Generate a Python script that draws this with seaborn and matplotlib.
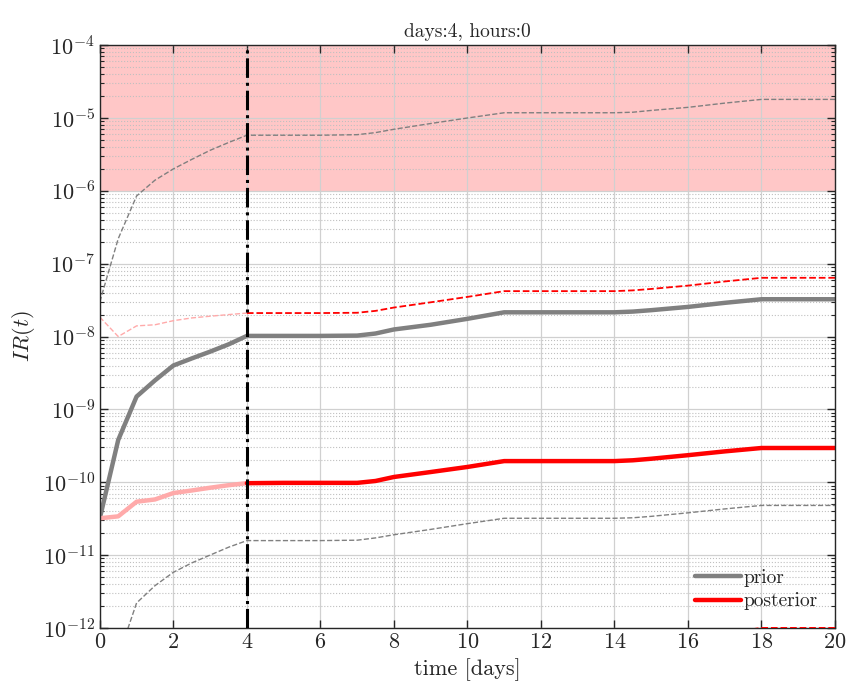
import seaborn as sns
import pandas as pd
import numpy as np
import matplotlib.pyplot as plt

days = [0, 0.5, 1, 1.5, 2, 2.5, 3, 3.5, 4, 5, 6, 7, 7.5, 8, 9, 10, 11,
        12, 13, 14, 14.5, 15, 16, 17, 18, 19, 20]

prior_mean = [3.2e-11, 3.8e-10, 1.5e-9, 2.5e-9, 4.0e-9, 5.0e-9, 6.2e-9, 7.8e-9, 1.02e-8,
              1.02e-8, 1.02e-8, 1.03e-8, 1.1e-8, 1.25e-8, 1.45e-8, 1.75e-8, 2.15e-8,
              2.15e-8, 2.15e-8, 2.15e-8, 2.2e-8, 2.3e-8, 2.55e-8, 2.9e-8, 3.25e-8, 3.25e-8, 3.25e-8]
prior_upper = [3.0e-8, 2.2e-7, 8.5e-7, 1.4e-6, 2.0e-6, 2.7e-6, 3.6e-6, 4.6e-6, 5.8e-6,
               5.8e-6, 5.8e-6, 5.9e-6, 6.3e-6, 7.0e-6, 8.4e-6, 1.0e-5, 1.18e-5,
               1.18e-5, 1.18e-5, 1.18e-5, 1.2e-5, 1.27e-5, 1.4e-5, 1.6e-5, 1.8e-5, 1.8e-5, 1.8e-5]
prior_lower = [5e-14, 4e-13, 2.2e-12, 3.8e-12, 5.8e-12, 7.8e-12, 1.0e-11, 1.28e-11, 1.58e-11,
               1.58e-11, 1.58e-11, 1.6e-11, 1.72e-11, 1.9e-11, 2.25e-11, 2.7e-11, 3.2e-11,
               3.2e-11, 3.2e-11, 3.2e-11, 3.25e-11, 3.4e-11, 3.8e-11, 4.3e-11, 4.8e-11, 4.8e-11, 4.8e-11]

post_mean = [3.2e-11, 3.4e-11, 5.4e-11, 5.8e-11, 7.1e-11, 7.7e-11, 8.4e-11, 9.1e-11, 9.7e-11,
             9.8e-11, 9.8e-11, 9.8e-11, 1.04e-10, 1.18e-10, 1.38e-10, 1.62e-10, 1.95e-10,
             1.95e-10, 1.95e-10, 1.95e-10, 2.0e-10, 2.1e-10, 2.35e-10, 2.65e-10, 2.95e-10, 2.95e-10, 2.95e-10]
post_upper = [1.85e-8, 1.0e-8, 1.4e-8, 1.45e-8, 1.65e-8, 1.8e-8, 1.9e-8, 2.0e-8, 2.1e-8,
              2.1e-8, 2.1e-8, 2.12e-8, 2.25e-8, 2.5e-8, 2.95e-8, 3.5e-8, 4.2e-8,
              4.2e-8, 4.2e-8, 4.2e-8, 4.3e-8, 4.5e-8, 5.0e-8, 5.7e-8, 6.4e-8, 6.4e-8, 6.4e-8]
post_lower = [1e-13, 1.1e-13, 1.8e-13, 2e-13, 2.4e-13, 2.6e-13, 2.9e-13, 3.1e-13, 3.3e-13,
              3.4e-13, 3.4e-13, 3.4e-13, 3.6e-13, 4e-13, 4.7e-13, 5.6e-13, 6.7e-13,
              6.7e-13, 6.7e-13, 6.7e-13, 6.9e-13, 7.2e-13, 8.1e-13, 8.5e-13, 1.0e-12, 1.0e-12, 1.0e-12]

now_day = 4

df = pd.DataFrame({"day": days, "prior_mean": prior_mean, "prior_upper": prior_upper,
                   "prior_lower": prior_lower, "post_mean": post_mean,
                   "post_upper": post_upper, "post_lower": post_lower})
past = df[df.day <= now_day]
future = df[df.day >= now_day]

sns.set_style("white")
plt.rcParams["font.family"] = "serif"
plt.rcParams["font.serif"] = ["cmr10", "DejaVu Serif"]
plt.rcParams["mathtext.fontset"] = "cm"
plt.rcParams["axes.formatter.use_mathtext"] = True
plt.rcParams["axes.unicode_minus"] = False

fig = plt.figure(figsize=(8.46, 6.84), dpi=100)
ax = fig.add_axes([0.118, 0.082, 0.869, 0.852])

ax.axhspan(1e-6, 1e-4, color="#ff0000", alpha=0.22, lw=0, zorder=0)

grey = "#808080"
pink = "#ffaaaa"
red = "#ff0000"

# prior
sns.lineplot(data=df, x="day", y="prior_upper", ax=ax, color=grey, lw=1.0, linestyle="--")
sns.lineplot(data=df, x="day", y="prior_lower", ax=ax, color=grey, lw=1.0, linestyle="--")
sns.lineplot(data=df, x="day", y="prior_mean", ax=ax, color=grey, lw=3.2, label="prior")

# posterior, faded before the current time
sns.lineplot(data=past, x="day", y="post_upper", ax=ax, color=pink, lw=1.0, linestyle="--")
sns.lineplot(data=past, x="day", y="post_lower", ax=ax, color=pink, lw=1.0, linestyle="--")
sns.lineplot(data=past, x="day", y="post_mean", ax=ax, color=pink, lw=3.2)
sns.lineplot(data=future, x="day", y="post_upper", ax=ax, color=red, lw=1.3, linestyle="--")
sns.lineplot(data=future, x="day", y="post_lower", ax=ax, color=red, lw=1.3, linestyle="--",
             zorder=4)
sns.lineplot(data=future, x="day", y="post_mean", ax=ax, color=red, lw=3.2, label="posterior")

ax.axvline(now_day, color="black", lw=2.2, linestyle="-.", zorder=5)

ax.set_yscale("log")
ax.set_xlim(0, 20)
ax.set_ylim(1e-12, 1e-4)
ax.set_xticks(np.arange(0, 21, 2))
ax.set_yticks([10.0 ** k for k in range(-12, -3)])

ax.grid(True, which="major", color="#d0d0d0", lw=0.9, ls="-")
ax.grid(True, which="minor", axis="y", color="#c0c0c0", lw=0.8, ls=":")
ax.set_axisbelow(True)

ax.tick_params(which="both", direction="in", bottom=True, left=True, top=True, right=True,
               labelsize=16, colors="#262626")
ax.tick_params(which="major", length=6, width=1.0)
ax.tick_params(which="minor", length=3, width=0.8)
for s in ax.spines.values():
    s.set_color("#262626")
    s.set_linewidth(1.0)

ax.set_xlabel("time [days]", fontsize=16, labelpad=4)
ax.set_ylabel("$IR(t)$", fontsize=16)
ax.set_title("days:4, hours:0", fontsize=14)

ax.legend(loc="lower right", frameon=False, fontsize=14, handlelength=2.4,
          handletextpad=0.1, borderaxespad=0.5, labelspacing=0.3)

fig.savefig("out.png", dpi=100)
